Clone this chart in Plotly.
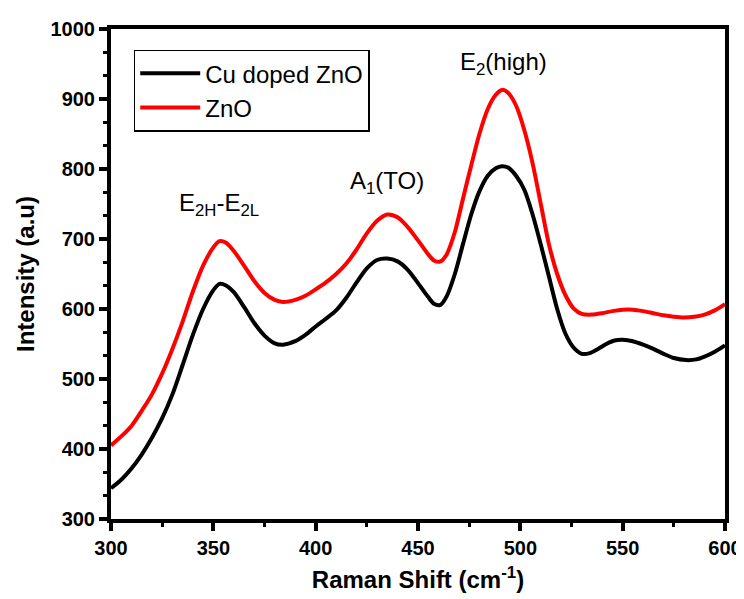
import plotly.graph_objects as go

# Raman shift (cm^-1) and intensity values
x_zno = [300, 305, 310, 316, 320, 325, 330, 335, 340, 345, 350, 353, 356, 360, 365, 370,
         375, 380, 384, 390, 395, 400, 405, 410, 415, 420, 425, 430, 435, 440, 445, 450,
         455, 458, 461, 464, 468, 472, 476, 480, 484, 488, 491, 494, 498, 502, 506, 510,
         514, 518, 522, 526, 530, 535, 540, 545, 550, 555, 560, 565, 570, 575, 580, 585,
         590, 595, 600]
y_zno = [405, 418, 433, 459, 478, 508, 543, 582, 625, 662, 688, 697, 695, 683, 662, 640,
         623, 613, 610, 613, 619, 628, 638, 650, 665, 685, 708, 726, 735, 731, 717, 698,
         678, 669, 668, 678, 710, 758, 805, 850, 885, 906, 913, 909, 890, 855, 808, 750,
         692, 650, 620, 601, 593, 592, 594, 597, 599, 599, 597, 594, 591, 589, 588, 589,
         592, 598, 607]

x_cu = [300, 305, 310, 315, 320, 325, 330, 335, 340, 345, 350, 353, 356, 360, 365, 370,
        375, 380, 384, 390, 395, 400, 405, 410, 415, 420, 425, 430, 435, 440, 445, 450,
        455, 458, 461, 464, 468, 472, 476, 480, 484, 488, 491, 494, 498, 502, 506, 510,
        514, 518, 522, 526, 530, 534, 538, 542, 546, 550, 555, 560, 565, 570, 575, 581,
        586, 590, 595, 600]
y_cu = [344, 356, 372, 392, 416, 444, 478, 520, 563, 600, 627, 636, 634, 624, 603, 580,
        562, 551, 549, 554, 563, 575, 586, 598, 616, 638, 658, 670, 672, 668, 656, 637,
        617, 607, 606, 618, 650, 693, 735, 768, 790, 801, 804, 802, 790, 770, 735, 692,
        646, 600, 565, 545, 536, 537, 543, 550, 555, 556, 554, 549, 543, 536, 530, 527,
        528, 532, 539, 548]

peak_labels = ["E<sub>2H</sub>-E<sub>2L</sub>", "A<sub>1</sub>(TO)", "E<sub>2</sub>(high)"]
peak_x = [353, 435, 492]
peak_y = [750, 781, 951]

FONT = "Arial, 'Liberation Sans', sans-serif"

fig = go.Figure()
fig.add_trace(go.Scatter(x=x_cu, y=y_cu, mode="lines", name="Cu doped ZnO",
                         line=dict(color="black", width=4, shape="spline", smoothing=0.8)))
fig.add_trace(go.Scatter(x=x_zno, y=y_zno, mode="lines", name="ZnO",
                         line=dict(color="#ff0000", width=4, shape="spline", smoothing=0.8)))

for t, xx, yy in zip(peak_labels, peak_x, peak_y):
    fig.add_annotation(x=xx, y=yy, text=t, showarrow=False,
                       font=dict(family=FONT, size=24, color="black"),
                       xanchor="center", yanchor="middle")

axis_common = dict(
    showline=True, linecolor="black", linewidth=4, mirror=True,
    ticks="outside", ticklen=8, tickwidth=4, tickcolor="black",
    showgrid=False, zeroline=False,
    tickfont=dict(family=FONT, size=20, color="black", weight="bold"),
)

fig.update_xaxes(range=[300, 600], dtick=50, tick0=300,
                 title=dict(text="Raman Shift (cm<sup>-1</sup>)",
                            font=dict(family=FONT, size=24, color="black", weight="bold"),
                            standoff=14),
                 minor=dict(dtick=25, tick0=300, ticks="outside", ticklen=4,
                            tickwidth=3, tickcolor="black"),
                 **axis_common)
fig.update_yaxes(range=[300, 1000], dtick=100, tick0=300,
                 title=dict(text="Intensity (a.u)",
                            font=dict(family=FONT, size=24, color="black", weight="bold"),
                            standoff=10),
                 minor=dict(dtick=100/3, tick0=300, ticks="outside", ticklen=4,
                            tickwidth=3, tickcolor="black"),
                 **axis_common)

fig.update_layout(
    width=744, height=599,
    margin=dict(l=103, r=18, t=10, b=88),
    plot_bgcolor="white", paper_bgcolor="white",
    showlegend=True,
    legend=dict(x=0.037, y=0.958, xanchor="left", yanchor="top",
                bgcolor="white", bordercolor="black", borderwidth=1.5,
                font=dict(family=FONT, size=24, color="black"),
                itemwidth=60, tracegroupgap=0),
)

fig.write_html("out.html")
